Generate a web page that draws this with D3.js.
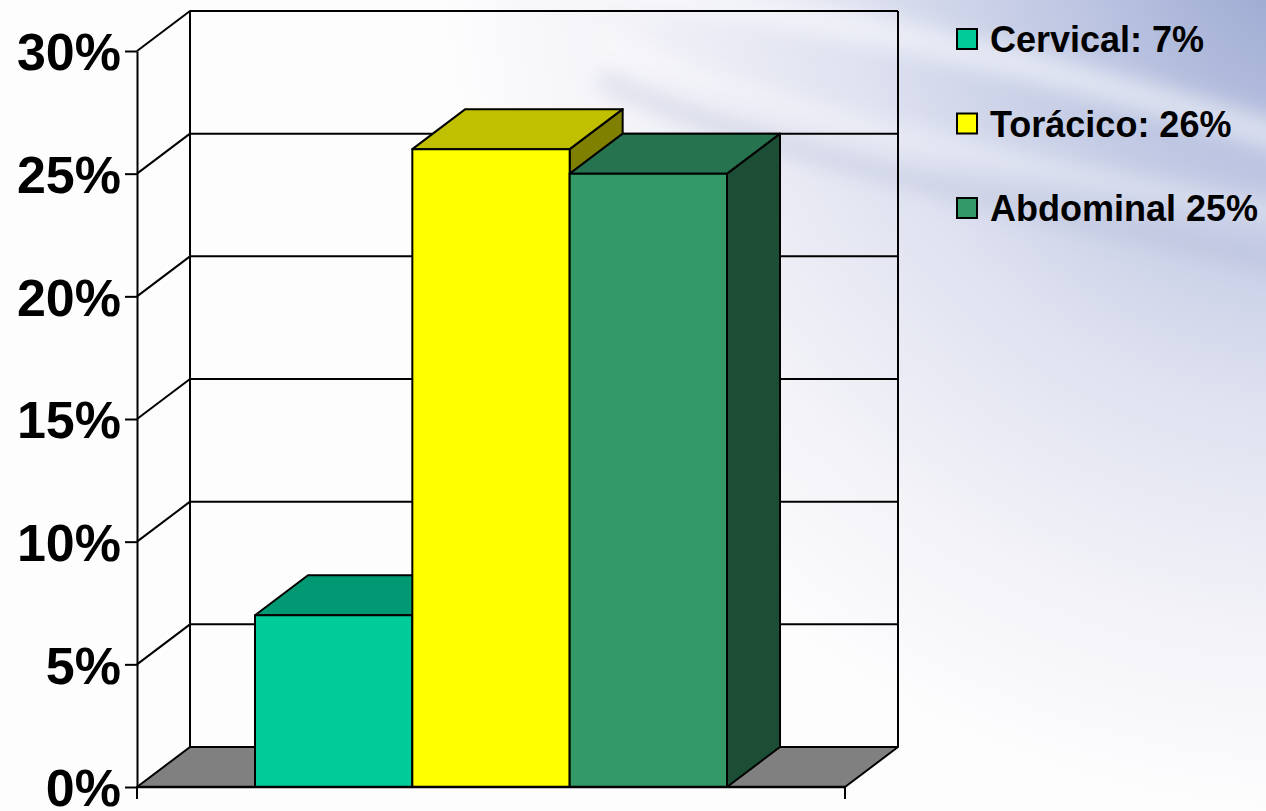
<!DOCTYPE html>
<html>
<head>
<meta charset="utf-8">
<script src="https://cdn.jsdelivr.net/npm/d3@7"></script>
<style>
  html, body { margin: 0; padding: 0; background: #ffffff; }
  svg { display: block; }
  text { font-family: "Liberation Sans", Arial, sans-serif; font-weight: bold; fill: #000; }
</style>
</head>
<body>
<svg id="chart" width="1266" height="811"></svg>
<script>
// Series of the single category, with values in percent
const seriesNames = ["Cervical", "Torácico", "Abdominal"];
const seriesValues = [7, 26, 25];
const legendLabels = ["Cervical: 7%", "Torácico: 26%", "Abdominal 25%"];
const yTicks = [0, 5, 10, 15, 20, 25, 30];

// Face colours per series: front, top, side
const frontColors = ["#00cc99", "#ffff00", "#339966"];
const topColors   = ["#009973", "#c0c000", "#267350"];
const sideColors  = ["#007352", "#808000", "#1c4d35"];

const svg = d3.select("#chart");
const W = 1266, H = 811;

// ---- background: pale slide with a bluish sweep in the upper right ----
const defs = svg.append("defs");
const bg = defs.append("radialGradient").attr("id", "bgGrad")
  .attr("gradientUnits", "userSpaceOnUse")
  .attr("cx", 1330).attr("cy", -80).attr("r", 900);
bg.append("stop").attr("offset", "0%").attr("stop-color", "#8e9dca");
bg.append("stop").attr("offset", "28%").attr("stop-color", "#bbc4e1");
bg.append("stop").attr("offset", "55%").attr("stop-color", "#dfe2f0");
bg.append("stop").attr("offset", "80%").attr("stop-color", "#f3f3f8");
bg.append("stop").attr("offset", "100%").attr("stop-color", "#fdfdfe");
defs.append("filter").attr("id", "soft").attr("x", "-20%").attr("y", "-50%").attr("width", "140%").attr("height", "200%")
  .append("feGaussianBlur").attr("stdDeviation", 10);

svg.append("rect").attr("width", W).attr("height", H).attr("fill", "url(#bgGrad)");
// soft streaks across the top right
svg.append("path")
  .attr("d", "M540,-20 C760,0 1000,50 1290,140")
  .attr("fill", "none").attr("stroke", "#ffffff").attr("stroke-opacity", 0.5)
  .attr("stroke-width", 30).attr("filter", "url(#soft)");
svg.append("path")
  .attr("d", "M600,80 C760,150 980,200 1290,265")
  .attr("fill", "none").attr("stroke", "#aab2cf").attr("stroke-opacity", 0.35)
  .attr("stroke-width", 16).attr("filter", "url(#soft)");
svg.append("path")
  .attr("d", "M600,40 C760,110 980,160 1290,215")
  .attr("fill", "none").attr("stroke", "#ffffff").attr("stroke-opacity", 0.35)
  .attr("stroke-width", 22).attr("filter", "url(#soft)");

// ---- 3D geometry ----
const x0 = 137, x1 = 845;      // front floor edge
const depthX = 53, depthY = 40; // offset of the back plane

const y = d3.scaleLinear().domain([0, 30]).range([787, 51]);
const x = d3.scaleBand().domain(seriesNames).range([x0, x1])
  .paddingInner(0).paddingOuter(0.75);

const line = d3.line();
const g = svg.append("g").attr("stroke-linejoin", "round");

// floor
g.append("path")
  .attr("d", line([[x0, y(0)], [x1, y(0)], [x1 + depthX, y(0) - depthY], [x0 + depthX, y(0) - depthY]]) + "Z")
  .attr("fill", "#808080").attr("stroke", "#000").attr("stroke-width", 2);

// back wall and side wall gridlines
yTicks.filter(v => v > 0).forEach(v => {
  g.append("path")
    .attr("d", line([[x0, y(v)], [x0 + depthX, y(v) - depthY], [x1 + depthX, y(v) - depthY]]))
    .attr("fill", "none").attr("stroke", "#000").attr("stroke-width", 2);
});
// wall verticals
g.append("line").attr("x1", x0 + depthX).attr("x2", x0 + depthX)
  .attr("y1", y(30) - depthY).attr("y2", y(0) - depthY)
  .attr("stroke", "#000").attr("stroke-width", 2);
g.append("line").attr("x1", x1 + depthX).attr("x2", x1 + depthX)
  .attr("y1", y(30) - depthY).attr("y2", y(0) - depthY)
  .attr("stroke", "#000").attr("stroke-width", 2);

// bars: front, top and side faces, drawn left to right
seriesNames.forEach((name, i) => {
  const v = seriesValues[i];
  const bx0 = x(name), bx1 = x(name) + x.bandwidth();
  const yt = y(v), yb = y(0);
  const bar = g.append("g").attr("stroke", "#000").attr("stroke-width", 2);
  bar.append("path")
    .attr("d", line([[bx1, yt], [bx1 + depthX, yt - depthY], [bx1 + depthX, yb - depthY], [bx1, yb]]) + "Z")
    .attr("fill", sideColors[i]);
  bar.append("path")
    .attr("d", line([[bx0, yt], [bx1, yt], [bx1 + depthX, yt - depthY], [bx0 + depthX, yt - depthY]]) + "Z")
    .attr("fill", topColors[i]);
  bar.append("rect")
    .attr("x", bx0).attr("y", yt).attr("width", bx1 - bx0).attr("height", yb - yt)
    .attr("fill", frontColors[i]);
});

// y axis on the front left edge
const yAxis = d3.axisLeft(y).tickValues(yTicks).tickFormat(d => d + "%")
  .tickSize(12).tickSizeOuter(0).tickPadding(4);
const ya = svg.append("g").attr("transform", `translate(${x0},0)`).call(yAxis);
ya.select(".domain").attr("stroke", "#000").attr("stroke-width", 2);
ya.selectAll(".tick line").attr("stroke", "#000").attr("stroke-width", 2);
ya.selectAll(".tick text").attr("font-size", 52).attr("font-family", "Liberation Sans, Arial, sans-serif")
  .attr("font-weight", "bold").attr("fill", "#000").attr("dy", "0.36em");

// x axis along the front floor edge, with category boundary ticks
const xa = svg.append("g");
xa.append("line").attr("x1", x0).attr("x2", x1).attr("y1", y(0)).attr("y2", y(0))
  .attr("stroke", "#000").attr("stroke-width", 2.5);
[x0, x1].forEach(px => {
  xa.append("line").attr("x1", px).attr("x2", px).attr("y1", y(0)).attr("y2", y(0) + 12)
    .attr("stroke", "#000").attr("stroke-width", 2);
});

// legend
const legend = svg.append("g").attr("transform", "translate(957,29)");
legendLabels.forEach((lab, i) => {
  const row = legend.append("g").attr("transform", `translate(0,${i * 84.5})`);
  row.append("rect").attr("x", 0).attr("y", 0).attr("width", 20).attr("height", 20)
    .attr("fill", frontColors[i]).attr("stroke", "#000").attr("stroke-width", 2);
  row.append("text").attr("x", 33).attr("y", 23)
    .attr("font-size", 36).text(lab);
});
</script>
</body>
</html>
